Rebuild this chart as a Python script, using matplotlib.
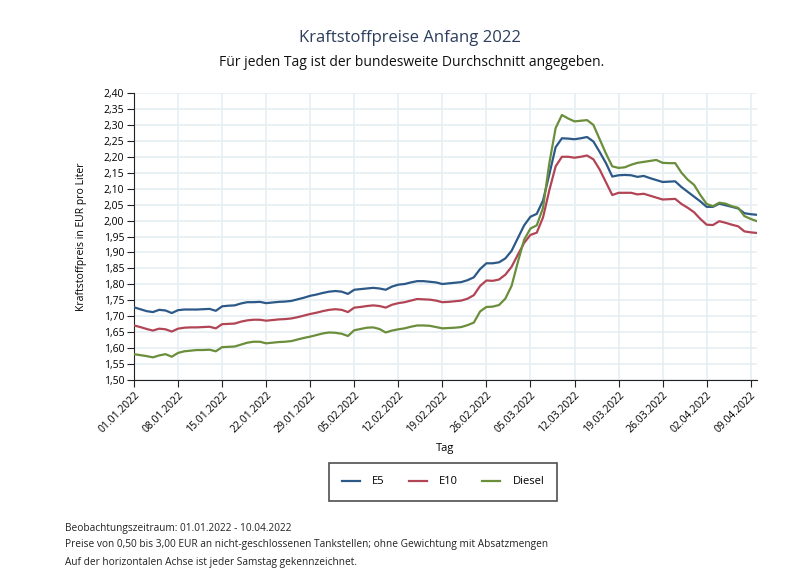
import matplotlib
matplotlib.use("Agg")
import matplotlib.pyplot as plt
import matplotlib.dates as mdates
import pandas as pd
import numpy as np

plt.rcParams['font.family'] = ['Open Sans', 'DejaVu Sans']

dates = pd.date_range("2022-01-01", "2022-04-10", freq="D")

e5 = [1.728, 1.722, 1.716, 1.713, 1.720, 1.718, 1.710, 1.719, 1.721, 1.721,
      1.721, 1.722, 1.723, 1.717, 1.731, 1.733, 1.734, 1.740, 1.744, 1.744,
      1.745, 1.741, 1.743, 1.745, 1.746, 1.748, 1.753, 1.758, 1.764, 1.768,
      1.773, 1.777, 1.779, 1.777, 1.770, 1.783, 1.785, 1.787, 1.789, 1.787,
      1.783, 1.793, 1.799, 1.801, 1.806, 1.810, 1.810, 1.808, 1.806, 1.801,
      1.803, 1.805, 1.807, 1.813, 1.822, 1.848, 1.866, 1.866, 1.869, 1.881,
      1.905, 1.945, 1.985, 2.012, 2.021, 2.063, 2.145, 2.230, 2.258, 2.257,
      2.255, 2.258, 2.262, 2.248, 2.215, 2.180, 2.138, 2.142, 2.143, 2.142,
      2.137, 2.140, 2.133, 2.127, 2.121, 2.122, 2.123, 2.105, 2.090, 2.075,
      2.060, 2.043, 2.043, 2.053, 2.048, 2.043, 2.038, 2.023, 2.020, 2.018]

e10 = [1.671, 1.666, 1.660, 1.655, 1.661, 1.659, 1.652, 1.661, 1.664, 1.665,
       1.665, 1.666, 1.667, 1.662, 1.675, 1.676, 1.677, 1.683, 1.687, 1.689,
       1.689, 1.686, 1.688, 1.690, 1.691, 1.693, 1.697, 1.702, 1.707, 1.711,
       1.716, 1.720, 1.722, 1.720, 1.713, 1.727, 1.729, 1.732, 1.734, 1.732,
       1.727, 1.736, 1.741, 1.744, 1.749, 1.754, 1.753, 1.752, 1.749, 1.744,
       1.745, 1.747, 1.749, 1.755, 1.766, 1.795, 1.812, 1.811, 1.815, 1.830,
       1.855, 1.893, 1.930, 1.955, 1.962, 2.010, 2.095, 2.170, 2.200, 2.200,
       2.197, 2.200, 2.204, 2.192, 2.160, 2.120, 2.080, 2.087, 2.087, 2.087,
       2.082, 2.084, 2.078, 2.072, 2.066, 2.067, 2.068, 2.052, 2.040, 2.026,
       2.005, 1.987, 1.986, 1.998, 1.993, 1.987, 1.982, 1.966, 1.963, 1.961]

diesel = [1.581, 1.578, 1.575, 1.571, 1.577, 1.581, 1.573, 1.585, 1.590, 1.592,
          1.594, 1.594, 1.595, 1.590, 1.603, 1.604, 1.605, 1.611, 1.617, 1.620,
          1.620, 1.615, 1.617, 1.619, 1.620, 1.622, 1.627, 1.632, 1.636, 1.641,
          1.646, 1.649, 1.648, 1.645, 1.638, 1.656, 1.660, 1.664, 1.665, 1.660,
          1.649, 1.655, 1.659, 1.662, 1.667, 1.671, 1.671, 1.670, 1.666, 1.662,
          1.663, 1.664, 1.666, 1.672, 1.680, 1.715, 1.729, 1.730, 1.735, 1.755,
          1.795, 1.870, 1.940, 1.975, 1.985, 2.040, 2.180, 2.290, 2.331, 2.320,
          2.311, 2.313, 2.315, 2.300, 2.255, 2.210, 2.170, 2.165, 2.167, 2.175,
          2.181, 2.184, 2.187, 2.190, 2.181, 2.180, 2.180, 2.150, 2.128, 2.112,
          2.080, 2.052, 2.045, 2.056, 2.053, 2.045, 2.040, 2.014, 2.005, 1.998]

series_names = ["E5", "E10", "Diesel"]
series_colors = ["#2c5987", "#b24555", "#6a8e3b"]

xticks = pd.date_range("2022-01-01", "2022-04-09", freq="7D")
yticks = np.round(np.arange(1.50, 2.401, 0.05), 2)

fig = plt.figure(figsize=(8.03, 5.71), dpi=100)
ax = fig.add_axes([134/803, 1-380/571, (757-134)/803, (380-93)/571])

for vals, name, col in zip([e5, e10, diesel], series_names, series_colors):
    ax.plot(dates, vals, color=col, lw=1.6, label=name, zorder=3)

ax.set_xlim(dates[0], dates[-1])
ax.set_ylim(1.50, 2.40)
ax.set_yticks(yticks)
ax.set_yticklabels([f"{v:.2f}".replace(".", ",") for v in yticks], fontsize=7.5)
ax.set_xticks(xticks)
ax.set_xticklabels([d.strftime("%d.%m.%Y") for d in xticks], rotation=45,
                   ha="right", rotation_mode="anchor", fontsize=7.5)
ax.grid(True, color="#e6eff3", lw=1.2, zorder=0)
for s in ["top", "right"]:
    ax.spines[s].set_visible(False)
ax.spines["left"].set_color("#222222")
ax.spines["bottom"].set_color("#222222")
ax.tick_params(axis="both", direction="out", length=5, color="#222222", pad=2)
ax.set_ylabel("Kraftstoffpreis in EUR pro Liter", fontsize=7.5, labelpad=12)
ax.set_xlabel("Tag", fontsize=8, labelpad=6)

leg = fig.legend(loc="center", bbox_to_anchor=(443/803, 1-482/571), ncol=3,
                 frameon=True, fancybox=False, fontsize=8, handlelength=1.6,
                 columnspacing=2.2, borderpad=1.2, handletextpad=1.1,
                 borderaxespad=0)
leg.get_frame().set_edgecolor("#222222")
leg.get_frame().set_linewidth(1.2)

fig.text(410/803, 1-38/571, "Kraftstoffpreise Anfang 2022", ha="center",
         va="center", fontsize=12, color="#2c3e5c")
fig.text(412/803, 1-62/571, "Für jeden Tag ist der bundesweite Durchschnitt angegeben.",
         ha="center", va="center", fontsize=10, color="#111111")

fig.text(65/803, 1-529/571, "Beobachtungszeitraum: 01.01.2022 - 10.04.2022",
         fontsize=7.3, va="center", color="#222222")
fig.text(65/803, 1-544/571,
         "Preise von 0,50 bis 3,00 EUR an nicht-geschlossenen Tankstellen; ohne Gewichtung mit Absatzmengen",
         fontsize=7.3, va="center", color="#222222")
fig.text(65/803, 1-562/571, "Auf der horizontalen Achse ist jeder Samstag gekennzeichnet.",
         fontsize=7.3, va="center", color="#222222")

fig.savefig("out.png", dpi=100)
